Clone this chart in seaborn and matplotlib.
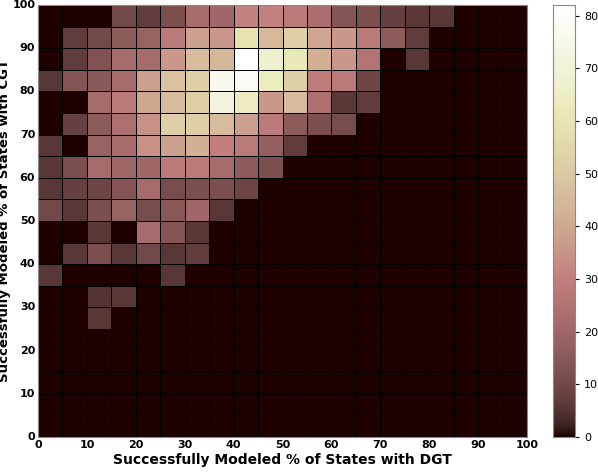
import numpy as np
import matplotlib
matplotlib.use("Agg")
import matplotlib.pyplot as plt
import seaborn as sns

# rows from top (y 95-100) down to (y 0-5); columns x 0-5 ... 95-100
rows = [
    [0,0,0,10,7,12,22,20,31,31,28,23,14,12,8,6,6,0,0,0],
    [0,7,10,16,18,28,38,36,59,45,52,40,36,28,16,7,0,0,0,0],
    [0,7,13,22,22,36,46,44,82,68,62,42,36,25,0,6,0,0,0,0],
    [6,14,15,22,38,48,52,76,78,64,52,29,28,9,0,0,0,0,0,0],
    [0,0,22,28,40,46,52,72,64,36,46,24,6,7,0,0,0,0,0,0],
    [0,8,16,24,34,52,52,46,38,28,16,12,11,0,0,0,0,0,0,0],
    [6,0,18,22,34,38,42,30,28,17,7,0,0,0,0,0,0,0,0,0],
    [6,12,22,20,20,28,28,22,16,12,0,0,0,0,0,0,0,0,0,0],
    [6,8,9,14,22,11,12,12,9,0,0,0,0,0,0,0,0,0,0,0],
    [10,6,12,18,11,15,20,6,0,0,0,0,0,0,0,0,0,0,0,0],
    [0,0,6,0,22,14,6,0,0,0,0,0,0,0,0,0,0,0,0,0],
    [0,6,12,6,10,6,7,0,0,0,0,0,0,0,0,0,0,0,0,0],
    [6,0,0,0,0,6,0,0,0,0,0,0,0,0,0,0,0,0,0,0],
    [0,0,5,6,0,0,0,0,0,0,0,0,0,0,0,0,0,0,0,0],
    [0,0,6,0,0,0,0,0,0,0,0,0,0,0,0,0,0,0,0,0],
] + [[0]*20 for _ in range(5)]
tick_vals = list(range(0, 101, 10))

data = np.array(rows, dtype=float)
fig = plt.figure(figsize=(5.98, 4.76), dpi=100)
ax = fig.add_axes([38/598, 1-437/476, 489/598, 432/476])
cax = fig.add_axes([553/598, 1-437/476, 22/598, 432/476])
sns.heatmap(data, ax=ax, cbar_ax=cax, cmap="pink", vmin=0, vmax=82,
            linewidths=0.5, linecolor="black")
ax.set_xticks(np.arange(0, 21, 2))
ax.set_xticklabels([str(v) for v in tick_vals], rotation=0, fontsize=8, fontweight="bold")
ax.set_yticks(20 - np.arange(0, 21, 2))
ax.set_yticklabels([str(v) for v in tick_vals], rotation=0, fontsize=8, fontweight="bold")
ax.tick_params(length=0, pad=2)
for s in ax.spines.values():
    s.set_visible(True); s.set_color("#888888"); s.set_linewidth(0.8)
ax.set_xlabel("Successfully Modeled % of States with DGT", fontsize=10, fontweight="bold", labelpad=2)
ax.set_ylabel("Successfully Modeled % of States with CGT", fontsize=9.5, fontweight="bold", labelpad=1)
cax.set_yticks(tick_vals[:9])
cax.tick_params(labelsize=8, length=3)
for s in cax.spines.values():
    s.set_visible(True); s.set_color("#888888")
fig.savefig("out.png", dpi=100)
